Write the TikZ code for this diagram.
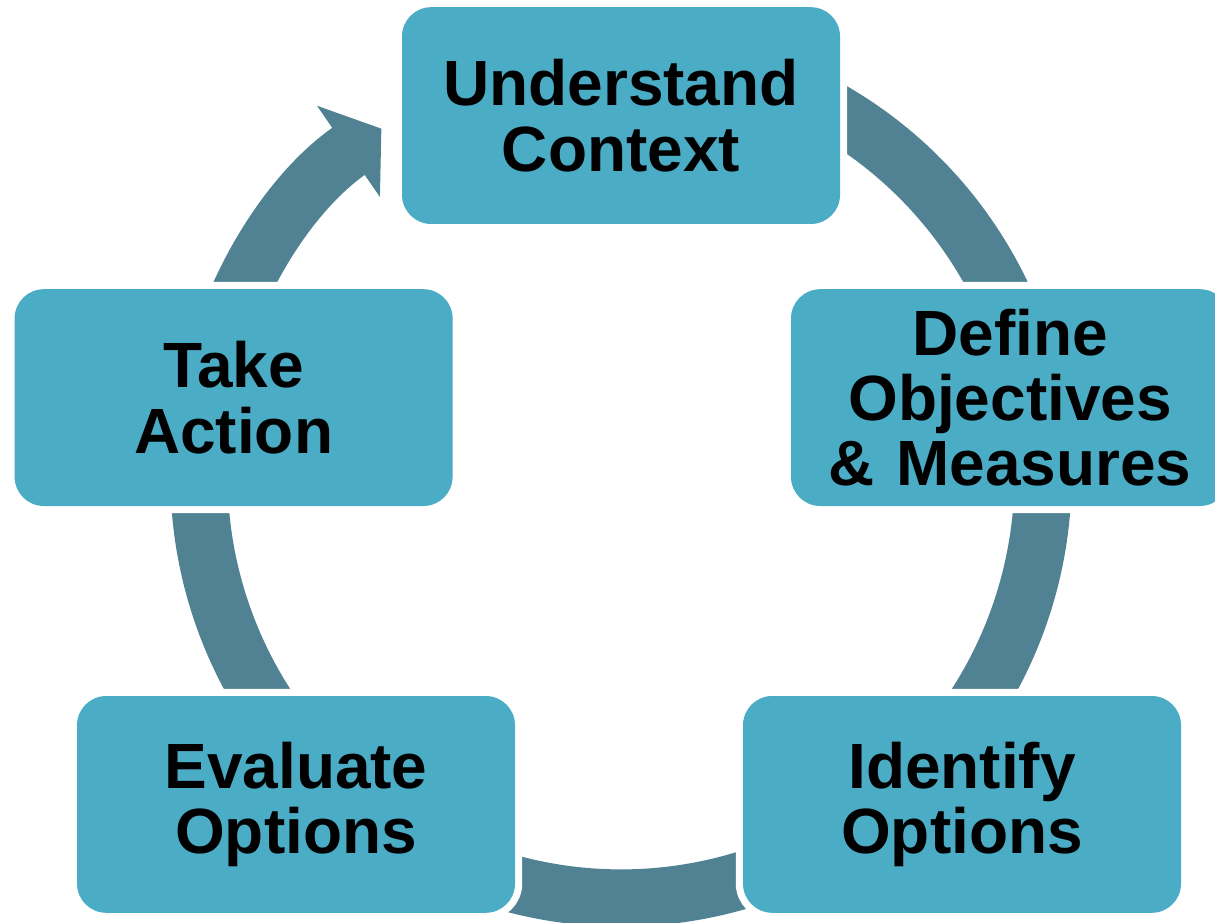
\documentclass[tikz,border=0pt]{standalone}
\usepackage{fontspec}
\setmainfont{Liberation Sans}
\definecolor{boxteal}{RGB}{75, 172, 198}
\definecolor{ringblue}{RGB}{80, 130, 147}
\usepackage{tikz}
\usetikzlibrary{arrows.meta, calc}

\begin{document}
\begin{tikzpicture}[
    stepbox/.style={fill=boxteal, rounded corners=0.73cm, minimum width=10.95cm, minimum height=5.42cm,
      preaction={draw=white, line width=0.36cm}, text width=10.5cm, align=center,
      font=\fontsize{45.5}{46.5}\selectfont\bfseries},
    cycarc/.style={draw=ringblue, line width=1.43cm}
  ]
  \useasboundingbox (0,0) rectangle (30.375,-23.075);
  \def\rad{10.55}
  \coordinate (ctr) at (15.525,-11.9);

  % Ring segments, hidden under the boxes at their ends
  \foreach \s/\e in {62/20, 5/-45, -60/-120, 225/175}
    \draw[cycarc] ($(ctr)+(\s:\rad)$) arc[start angle=\s, end angle=\e, radius=\rad];
  \draw[cycarc, -{Triangle[width=2.72cm, length=1cm]}] ($(ctr)+(170:\rad)$) arc[start angle=170, end angle=124.6, radius=\rad];

  % Five steps
  \node[stepbox] (uc) at (15.525,-2.89) {Understand\\Context};
  \node[stepbox] (dom) at (25.25,-9.94) {Define\\Objectives\\\& Measures};
  \node[stepbox] (io) at (24.05,-20.11) {Identify\\Options};
  \node[stepbox] (eo) at (7.4,-20.11) {Evaluate\\Options};
  \node[stepbox] (ta) at (5.84,-9.94) {Take\\Action};
\end{tikzpicture}
\end{document}
